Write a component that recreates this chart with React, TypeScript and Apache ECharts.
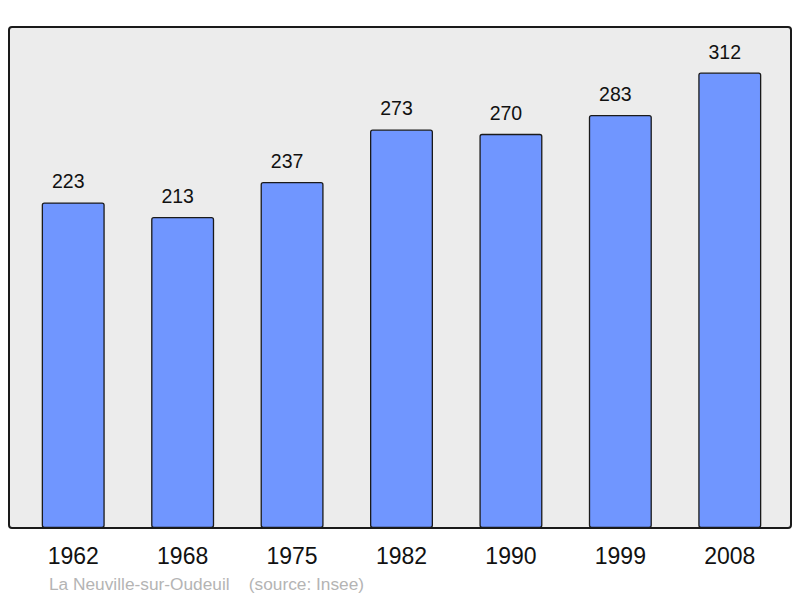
import React, { useEffect, useRef } from "react";
import * as echarts from "echarts";

const years = ["1962", "1968", "1975", "1982", "1990", "1999", "2008"];
const population = [223, 213, 237, 273, 270, 283, 312];
const footerPlace = "La Neuville-sur-Oudeuil";
const footerSource = "(source: Insee)";

export default function App() {
  const ref = useRef<HTMLDivElement>(null);
  useEffect(() => {
    if (!ref.current) return;
    const chart = echarts.init(ref.current, undefined, { renderer: "svg" });
    chart.setOption({
      animation: false,
      textStyle: { fontFamily: "Liberation Sans" },
      graphic: [
        {
          type: "rect",
          z: -10,
          shape: { x: 9, y: 27, width: 782, height: 501, r: 3 },
          style: { fill: "#ececec", stroke: "#1a1a1a", lineWidth: 2 },
        },
        {
          type: "text",
          x: 49,
          y: 584,
          style: {
            text: footerPlace + "    " + footerSource,
            fill: "#b4b4b4",
            fontSize: 17.3,
            fontFamily: "Liberation Sans",
            verticalAlign: "middle",
          },
        },
      ],
      grid: { left: 18.5, width: 766, top: 27, height: 501 },
      xAxis: {
        type: "category",
        data: years,
        axisLine: { show: false },
        axisTick: { show: false },
        axisLabel: { fontSize: 23, color: "#111", margin: 16 },
      },
      yAxis: {
        type: "value",
        min: 0,
        max: 343.2,
        show: false,
        splitLine: { show: false },
      },
      series: [
        {
          type: "bar",
          data: population,
          barWidth: 63,
          itemStyle: {
            color: "#7096ff",
            borderColor: "#1a1a1a",
            borderWidth: 1.3,
            borderRadius: 2,
          },
          label: {
            show: true,
            position: "top",
            distance: 11,
            offset: [-5, 0],
            fontSize: 19.5,
            color: "#111",
          },
        },
      ],
    });
    return () => chart.dispose();
  }, []);
  return <div ref={ref} style={{ width: 800, height: 598, position: "absolute", left: 0, top: 0 }} />;
}
